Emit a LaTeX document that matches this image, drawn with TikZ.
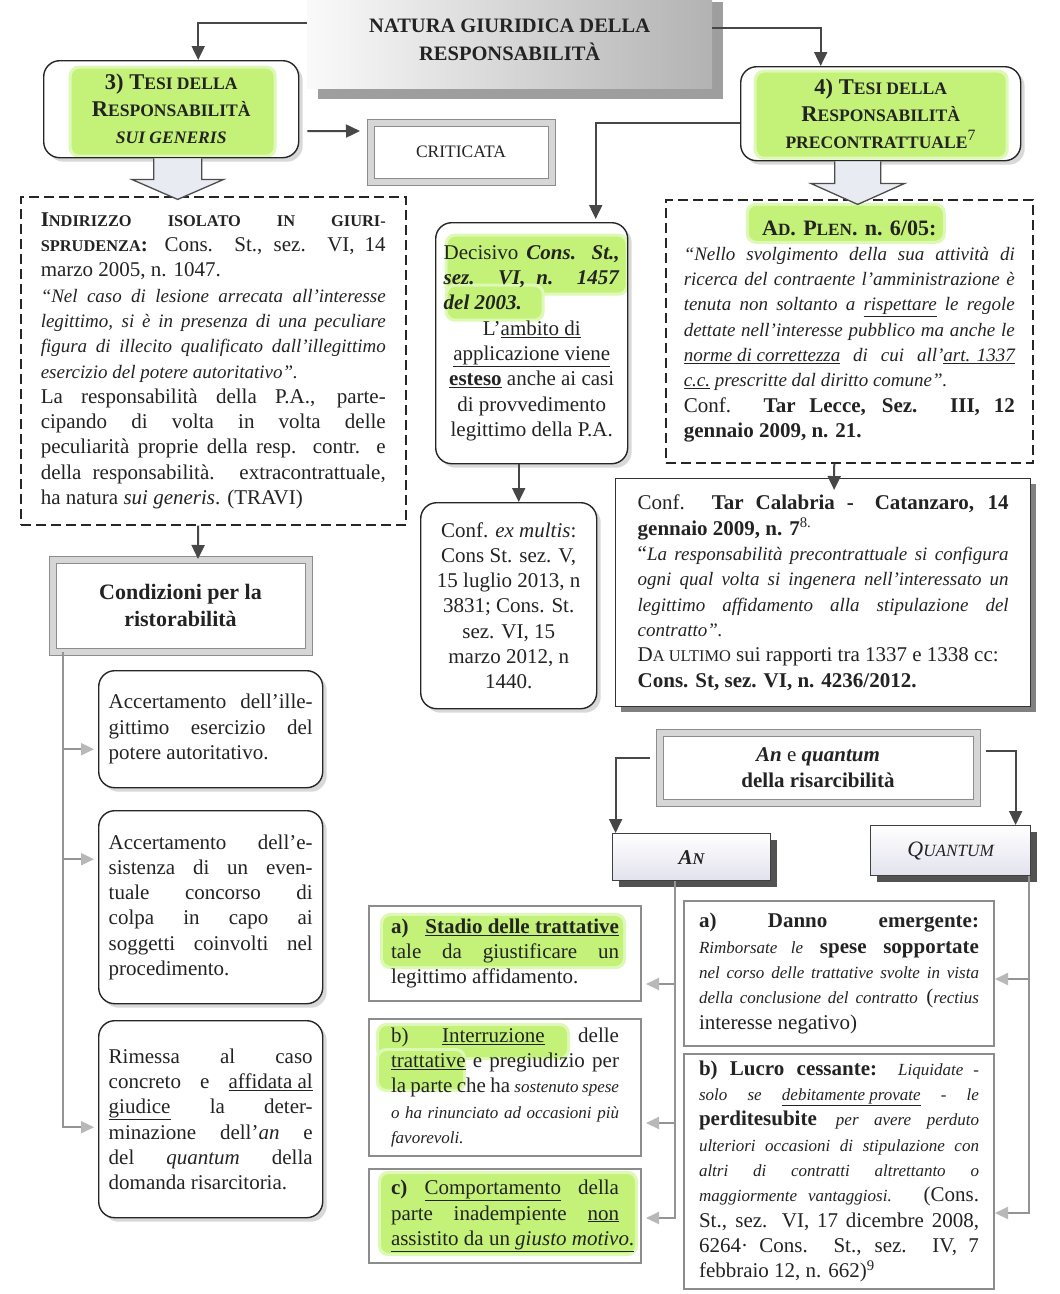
\documentclass[tikz,border=0pt]{standalone}
\usepackage{fontspec}
\setmainfont{Liberation Serif}
\usepackage{graphicx}
\usetikzlibrary{arrows.meta,shadows}

\definecolor{hlc}{RGB}{196,242,120}
\definecolor{hlsoft}{RGB}{222,248,182}
\definecolor{ink}{RGB}{35,35,35}
\definecolor{blkfill}{RGB}{232,236,242}
\definecolor{lav}{RGB}{226,226,238}

% fake small capitals and the two italic sizes used in quotations
\newcommand{\smc}[1]{\scalebox{0.78}{#1}}
\newcommand{\iq}[1]{{\fontsize{19}{25.3}\selectfont\itshape #1}}
\newcommand{\iqs}[1]{{\fontsize{17}{25.3}\selectfont\itshape #1}}
\newcommand{\bodyfont}{\fontsize{21}{25.3}\selectfont}
% highlighter strip with a soft rim, offsets measured from the box's top-left corner
\newcommand{\hlbox}[4]{%
  \fill[hlsoft,rounded corners=10pt] ([xshift=#1pt-3pt,yshift=-#2pt+3pt]path picture bounding box.north west) rectangle ([xshift=#3pt+3pt,yshift=-#4pt-3pt]path picture bounding box.north west);
  \fill[hlc,rounded corners=8pt] ([xshift=#1pt,yshift=-#2pt]path picture bounding box.north west) rectangle ([xshift=#3pt,yshift=-#4pt]path picture bounding box.north west);}

\tikzset{
  boxbase/.style={anchor=north west, inner ysep=0pt, text=ink, font=\bodyfont, align=justify,
    execute at begin node={\tolerance=10000\hbadness=10000\hyphenpenalty=10000\parindent=0pt}},
  roundbox/.style={boxbase, draw=black!85, line width=1.4pt, fill=white, rounded corners=16pt,
    drop shadow={shadow xshift=4pt, shadow yshift=-4pt, opacity=0.3}},
  dashbox/.style={boxbase, draw=black!85, line width=1.5pt, dash pattern=on 10pt off 5pt},
  sqbox/.style={boxbase, draw=black!80, line width=1.4pt, fill=white,
    drop shadow={shadow xshift=5pt, shadow yshift=-5pt, fill=black!50, opacity=1}},
  greybox/.style={boxbase, draw=black!45, line width=2pt, fill=white},
  framebox/.style={anchor=north west, draw=black!45, line width=1pt, double=black!16,
    double distance=6pt, fill=white, align=center, text=ink},
  tagbox/.style={anchor=north west, draw=black!75, line width=1.2pt, top color=white,
    bottom color=lav, drop shadow={shadow xshift=6pt, shadow yshift=-6pt, fill=black!68, opacity=1}, text=ink},
  conn/.style={draw=black!72, line width=2pt, -{Triangle[length=14pt,width=13pt]}},
  gconn/.style={draw=black!42, line width=2pt, shorten >=4pt, -{Triangle[length=13pt,width=12pt,color=black!28]}},
  blk/.style={draw=black!70, line width=1.3pt, fill=blkfill, line join=miter},
}

\begin{document}
\begin{tikzpicture}[x=1pt,y=-1pt]
\fill[white] (0,0) rectangle (1060,1294);
\useasboundingbox (0,0) rectangle (1060,1294);

% ---- heading
\node[anchor=north west, minimum width=405pt, minimum height=97pt, left color=black!2, right color=black!30,
  drop shadow={shadow xshift=11pt, shadow yshift=-11pt, fill=black!38, opacity=1},
  font=\fontsize{20.5}{28}\selectfont\bfseries, align=center, text=ink] (title) at (307,-9)
  {NATURA GIURIDICA DELLA\\ RESPONSABILITÀ};

% ---- the two theses
\node[roundbox, align=center, font=\fontsize{22.5}{27}\selectfont\bfseries, minimum width=255pt,
  minimum height=97pt, path picture={\hlbox{28}{8}{230}{94}}] (t3) at (43,60)
  {3) T\smc{ESI DELLA}\\ R\smc{ESPONSABILITÀ}\\ {\itshape\smc{SUI GENERIS}}};

\node[roundbox, align=center, font=\fontsize{22.5}{27}\selectfont\bfseries, minimum width=280pt,
  minimum height=94pt, path picture={\hlbox{16}{6}{265}{90}}] (t4) at (740,66)
  {4) T\smc{ESI DELLA}\\ R\smc{ESPONSABILITÀ}\\ \smc{PRECONTRATTUALE}\textsuperscript{\mdseries 7}};

\node[framebox, minimum width=181pt, minimum height=59pt, font=\fontsize{17.5}{20}\selectfont] (crit) at (370,122) {CRITICATA};

% ---- case law boxes
\node[dashbox, text width=345pt, inner xsep=20pt, minimum height=328pt] (ldash) at (20,196)
{\textbf{I\smc{NDIRIZZO} \smc{ISOLATO} \smc{IN} \smc{GIURI-}}\linebreak
\textbf{\smc{SPRUDENZA}:} Cons. St., sez. VI, 14\linebreak
marzo 2005, n. 1047.\\
\iq{“Nel caso di lesione arrecata all’interesse\linebreak
legittimo, si è in presenza di una peculiare\linebreak
figura di illecito qualificato dall’illegittimo\linebreak
esercizio del potere autoritativo”.}\\
La responsabilità della P.A., parte-\linebreak
cipando di volta in volta delle\linebreak
peculiarità proprie della resp. contr. e\linebreak
della responsabilità. extracontrattuale,\linebreak
ha natura \textit{sui generis}. (TRAVI)};

\node[dashbox, text width=331pt, inner xsep=18pt, minimum height=263pt,
  path picture={\hlbox{83}{6}{277}{41}}] (rdash) at (665,199)
{{\centering\fontsize{22}{27}\selectfont\bfseries A\smc{D}. P\smc{LEN}. n. 6/05:\par}
\iq{“Nello svolgimento della sua attività di\linebreak
ricerca del contraente l’amministrazione è\linebreak
tenuta non soltanto a \underline{rispettare} le regole\linebreak
dettate nell’interesse pubblico ma anche le\linebreak
\underline{norme di correttezza} di cui all’\underline{art. 1337}\linebreak
\underline{c.c.} prescritte dal diritto comune”.}\\
Conf. \textbf{Tar Lecce, Sez. III, 12}\linebreak
\textbf{gennaio 2009, n. 21.}};

\node[roundbox, text width=176pt, inner xsep=8pt, minimum height=241pt,
  path picture={\hlbox{12}{14}{190}{70}\hlbox{12}{64}{106}{96}}] (mid) at (435,222)
{Decisivo \textbf{\textit{Cons. St.,}}\linebreak
\textbf{\textit{sez. VI, n. 1457}}\linebreak
\textbf{\textit{del 2003.}}\par
{\centering L’\underline{ambito di}\\ \underline{applicazione viene}\\ \underline{\textbf{esteso}} anche ai casi\\ di provvedimento\\ legittimo della P.A.\par}};

\node[roundbox, align=flush center, text width=160pt, inner xsep=8pt, minimum height=206pt] (exm) at (420,502)
{Conf. \textit{ex multis}:\\ Cons St. sez. V,\\ 15 luglio 2013, n\\ 3831; Cons. St.\\ sez. VI, 15\\ marzo 2012, n\\ 1440.};

\node[sqbox, text width=371pt, inner xsep=22pt, minimum height=228pt] (tarc) at (615,478)
{Conf. \textbf{Tar Calabria -\quad Catanzaro, 14}\linebreak
\textbf{gennaio 2009, n. 7}\textsuperscript{8.}\\
“\iq{La responsabilità precontrattuale si configura\linebreak
ogni qual volta si ingenera nell’interessato un\linebreak
legittimo affidamento alla stipulazione del\linebreak
contratto”.}\\
D\smc{A ULTIMO} sui rapporti tra 1337 e 1338 cc:\\
\textbf{Cons. St, sez. VI, n. 4236/2012.}};

% ---- conditions for compensation
\node[framebox, minimum width=256pt, minimum height=92pt, font=\fontsize{22}{27}\selectfont\bfseries] (cond) at (52,559)
  {Condizioni per la\\ ristorabilità};

\node[roundbox, text width=204pt, inner xsep=10pt, minimum height=117pt] (l1) at (98,670)
{Accertamento dell’ille-\linebreak gittimo esercizio del\linebreak potere autoritativo.};

\node[roundbox, text width=204pt, inner xsep=10pt, minimum height=193pt] (l2) at (98,810)
{Accertamento dell’e-\linebreak sistenza di un even-\linebreak tuale concorso di\linebreak colpa in capo ai\linebreak soggetti coinvolti nel\linebreak procedimento.};

\node[roundbox, text width=204pt, inner xsep=10pt, minimum height=197pt] (l3) at (98,1020)
{Rimessa al caso\linebreak concreto e \underline{affidata al}\linebreak \underline{giudice} la deter-\linebreak minazione dell’\textit{an} e\linebreak del \textit{quantum} della\linebreak domanda risarcitoria.};

% ---- an and quantum
\node[framebox, minimum width=317pt, minimum height=70pt, font=\fontsize{21}{26}\selectfont] (anq) at (659,732)
  {\textbf{\textit{An}} e \textbf{\textit{quantum}}\\ \textbf{della risarcibilità}};

\node[tagbox, minimum width=158pt, minimum height=47pt, font=\fontsize{21}{25}\selectfont\bfseries\itshape] (an) at (612,833) {A\smc{N}};
\node[tagbox, minimum width=160pt, minimum height=50pt, font=\fontsize{22}{25}\selectfont\itshape] (qt) at (870,825) {Q\smc{UANTUM}};

\node[greybox, text width=228pt, inner xsep=22pt, minimum height=95pt,
  path picture={\hlbox{14}{10}{254}{60}}] (aa) at (368,905)
{\textbf{a) \underline{Stadio delle trattative}}\linebreak tale da giustificare un\linebreak legittimo affidamento.};

\node[greybox, text width=228pt, inner xsep=22pt, minimum height=137pt,
  path picture={\hlbox{10}{7}{198}{38}\hlbox{10}{32}{94}{70}}] (ab) at (368,1018)
{b) \underline{Interruzione} delle\linebreak \underline{trattative} e pregiudizio per\linebreak la parte che ha \iqs{sostenuto spese}\linebreak \iqs{o ha rinunciato ad occasioni più}\linebreak \iqs{favorevoli.}};

\node[greybox, text width=228pt, inner xsep=22pt, minimum height=94pt,
  path picture={\hlbox{12}{5}{266}{84}}] (ac) at (368,1168)
{\textbf{c)} \underline{Comportamento} della\linebreak parte inadempiente \underline{non}\linebreak \underline{assistito da un \textit{giusto motivo}.}};

\node[greybox, text width=280pt, inner xsep=15pt, minimum height=145pt] (qa) at (683,900)
{\textbf{a) Danno emergente:}\linebreak
\iqs{Rimborsate le} \textbf{spese sopportate}\linebreak
\iqs{nel corso delle trattative svolte in vista}\linebreak
\iqs{della conclusione del contratto} (\iqs{rectius}\linebreak
interesse negativo)};

\node[greybox, text width=280pt, inner xsep=15pt, minimum height=235pt] (qb) at (683,1053)
{\textbf{b) Lucro cessante:} \iqs{Liquidate -}\linebreak
\iqs{solo se \underline{debitamente provate} - le}\linebreak
\textbf{perditesubite} \iqs{per avere perduto}\linebreak
\iqs{ulteriori occasioni di stipulazione con}\linebreak
\iqs{altri di contratti altrettanto o}\linebreak
\iqs{maggiormente vantaggiosi.} (Cons.\linebreak
St., sez. VI, 17 dicembre 2008,\linebreak
6264· Cons. St., sez. IV, 7\linebreak
febbraio 12, n. 662)\textsuperscript{9}};

% ---- hollow block arrows under the theses
\filldraw[blk] ([xshift=6.5pt]t3.south) ++(-24,0) -- ++(0,21) -- ++(-22,0) -- ++(46,20) -- ++(46,-20) -- ++(-22,0) -- ++(0,-21);
\filldraw[blk] ([xshift=-23pt]t4.south) ++(-23,0) -- ++(0,22) -- ++(-24,0) -- ++(47,21) -- ++(47,-21) -- ++(-24,0) -- ++(0,-22);

% ---- connectors
\draw[conn] ([yshift=17pt]title.west) -| ([xshift=27pt]t3.north);
\draw[conn] ([yshift=12pt]title.east) -| ([xshift=-60pt]t4.north);
\draw[conn] ([xshift=8pt,yshift=-22pt]t3.east) -- ([xshift=-10pt,yshift=21pt]crit.west);
\draw[conn, shorten >=3pt] ([yshift=-9pt]t4.west) -| ([xshift=64pt]mid.north);
\draw[conn] ([xshift=-13pt]mid.south) -- ([xshift=10pt]exm.north);
\draw[conn, shorten >=-12pt] ([xshift=-15pt]rdash.south) -- ([xshift=11pt]tarc.north);
\draw[conn] ([xshift=-15pt]ldash.south) -- ([xshift=17.5pt]cond.north);

\draw[gconn] ([xshift=-118pt]cond.south) |- ([yshift=-20pt]l1.west);
\draw[gconn] ([xshift=-118pt]cond.south) |- ([yshift=48pt]l2.west);
\draw[gconn] ([xshift=-118pt]cond.south) |- ([yshift=-8pt]l3.west);

\draw[conn] ([xshift=-9pt,yshift=10pt]anq.west) -| ([xshift=-76pt]an.north);
\draw[conn] ([xshift=9pt,yshift=17pt]anq.east) -| ([xshift=65pt]qt.north);

\draw[gconn] ([xshift=-17pt]an.south) |- ([yshift=-30.5pt]aa.east);
\draw[gconn] ([xshift=-17pt]an.south) |- ([yshift=-35.5pt]ab.east);
\draw[gconn] ([xshift=-17pt]an.south) |- ([yshift=-2pt]ac.east);
\draw[gconn, shorten >=0pt] ([xshift=78pt]qt.south) |- ([yshift=-5.5pt]qa.east);
\draw[gconn, shorten >=0pt] ([xshift=78pt]qt.south) |- ([yshift=-41.5pt]qb.east);
\end{tikzpicture}
\end{document}
